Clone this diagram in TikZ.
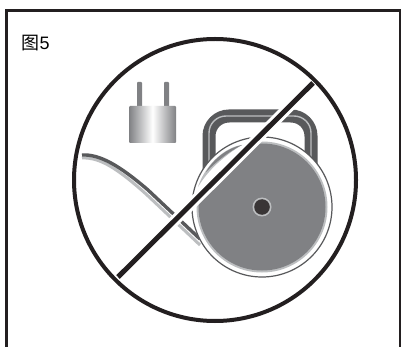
\documentclass[tikz,border=0pt]{standalone}
\usepackage{fontspec}
\setmainfont{Liberation Sans}
\newfontfamily\cjk{Noto Sans CJK SC}
\definecolor{inkc}{HTML}{231F20}
\definecolor{discc}{HTML}{808184}
\definecolor{edgec}{HTML}{58595B}
\definecolor{paleC}{HTML}{BCBEC0}
\begin{document}
\begin{tikzpicture}[
    x=1pt,y=-1pt,
    frameline/.style={line width=3pt,inkc,line join=miter},
    ringline/.style={line width=4pt,inkc},
    bar/.style={line width=5pt,inkc},
    halo/.style={line width=11pt,white},
    handleband/.style={rounded corners=20pt,line width=13pt,edgec},
    cordtop/.style={line width=3.4pt,edgec},
    cordlow/.style={line width=3pt,paleC},
    prong/.style={fill=discc,rounded corners=0.8pt}
  ]
    \useasboundingbox (0,0) rectangle (401,347);
    \clip (0,0) rectangle (401,347);
    \fill[white] (0,0) rectangle (401,347);
    \draw[frameline] (6.5,350) -- (6.5,11) -- (400,11) -- (400,350);
    \node[anchor=west,inner sep=0pt,font=\fontsize{18}{18}\selectfont] (caption) at (21.5,43) {{\cjk 图}5};
    \draw[ringline] (215,180) circle (141);
    \fill[prong] (137,82) rectangle (142,107);
    \fill[prong] (164,82) rectangle (169,107);
    \shade[left color=discc,right color=discc,middle color=white,rounded corners=1pt] (129,106) rectangle (176,143);
    \draw[cordlow] (82,158) .. controls (100,157) and (118,169) .. (146,194) -- (200,245);
    \draw[cordtop] (82,155) .. controls (100,154) and (120,166) .. (148,190) -- (200,239);
    \draw[handleband] (209,175) -- (209,116) -- (311,116) -- (311,175);
    \draw[rounded corners=17pt,line width=1.4pt,paleC] (209,175) -- (209,116) -- (311,116) -- (311,175);
    \fill[white] (262,207) circle (70);
    \draw[line width=1.2pt,edgec] (262,207) circle (70);
    \begin{scope}
      \clip (118,277) -- (313,83) -- (401,170) -- (401,347) -- (240,347) -- cycle;
      \fill[paleC] (262,207) circle (65.5);
      \fill[discc] (262,207) circle (63.5);
    \end{scope}
    \fill[paleC] (242,145) .. controls (225,147) and (205,165) .. (198,187) .. controls (208,170) and (225,155) .. (242,145) -- cycle;
    \fill[discc] (242,145) .. controls (228,148) and (214,158) .. (206,172) .. controls (216,162) and (228,152) .. (242,145) -- cycle;
    \fill[paleC] (262,207) circle (9.5);
    \fill[inkc!90] (262,207) circle (7.8);
    \draw[halo] (118,277) -- (313,83);
    \draw[bar] (118,277) -- (313,83);
\end{tikzpicture}
\end{document}
